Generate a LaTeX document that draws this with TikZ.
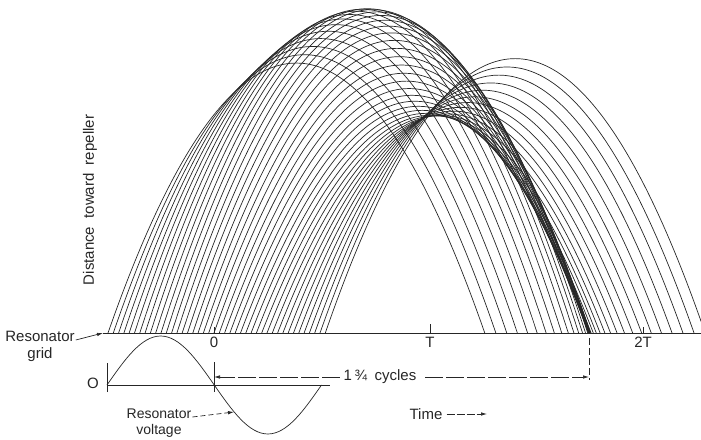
\documentclass[tikz,border=0pt]{standalone}
\usepackage{fontspec}
\setmainfont{Liberation Sans}
\usetikzlibrary{arrows.meta,positioning}
\definecolor{plateink}{HTML}{262626}
\tikzset{
  beampath/.style={draw=plateink, line width=0.7pt},
  gridline/.style={draw=plateink, line width=0.9pt},
  tickmark/.style={draw=plateink, line width=0.9pt},
  tagtext/.style={font=\fontsize{15}{17}\selectfont, inner sep=1pt, align=center, text=plateink},
  tagarrow/.style={-{Latex[length=6pt,width=3.5pt]}, draw=plateink, line width=0.7pt},
  spanarrow/.style={tagarrow, dash pattern=on 18pt off 3pt},
  markline/.style={draw=plateink, line width=0.7pt, dash pattern=on 7pt off 3pt}
}

\begin{document}
\begin{tikzpicture}[x=1pt,y=1pt]
\useasboundingbox (0,0) rectangle (701,439);
\clip (0,0) rectangle (701,439);
\foreach \n in {0,...,41}{
  \pgfmathsetmacro\tstart{-106+5.3*\n}
  \pgfmathsetmacro\vfac{1-0.1*sin(1.67832*\tstart)}
  \pgfmathsetmacro\xs{214+\tstart}
  \pgfmathsetmacro\xa{\xs+125.13*\vfac}
  \pgfmathsetmacro\xb{\xs+250.27*\vfac}
  \pgfmathsetmacro\xe{\xs+375.4*\vfac}
  \pgfmathsetmacro\yc{106+357.33*\vfac*\vfac}
  \draw[beampath] (\xs,106) .. controls (\xa,\yc) and (\xb,\yc) .. (\xe,106);
}
\coordinate (gridL) at (103,106);
\coordinate (gridR) at (701,106);
\coordinate (t0) at (214,106);
\coordinate (t1) at (430,106);
\coordinate (t2) at (643,106);
\draw[gridline] (gridL) -- (gridR);
\draw[tickmark] (t0) -- ++(0,6);
\draw[tickmark] (t1) -- ++(0,9);
\draw[tickmark] (t2) -- ++(0,6);
\node[tagtext, below=3pt of t0] (lbl0) {0};
\node[tagtext, below=3pt of t1] (lbl1) {T};
\node[tagtext, below=3pt of t2] (lbl2) {2T};
\node[tagtext, rotate=90] (distlbl) at (90,239) {Distance\ \ toward\ \ repeller};
\node[tagtext] (gridlbl) at (40,93) {Resonator\\grid};
\draw[tagarrow] ([yshift=6pt]gridlbl.east) -- (gridL);
\coordinate (vbase) at (107,54);
\coordinate (vend) at (330,54);
\draw[beampath] (vbase) -- (vend);
\draw[beampath] (107,54) sin (160.6,103) cos (214.25,54) sin (267.9,5) cos (321.5,54);
\draw[tickmark] (107,47) -- (107,76);
\draw[tickmark] (214,47) -- (214,77);
\node[tagtext] (lblO) at (93,56) {O};
\node[tagtext, font=\fontsize{14}{16}\selectfont] (voltlbl) at (159,16) {Resonator\\voltage};
\coordinate (volttip) at (234,27);
\draw[tagarrow, dash pattern=on 5pt off 3pt] ([yshift=6pt]voltlbl.east) -- (volttip);
\coordinate (zerobar) at (214,62);
\coordinate (bunchbar) at (589,62);
\draw[markline] (589,101) -- (589,59);
\node[tagtext, inner sep=4pt] (spanlbl) at (380,62) {1\,¾\enspace cycles};
\draw[spanarrow] (spanlbl.west) -- (zerobar);
\draw[spanarrow] ([xshift=5pt]spanlbl.east) -- (bunchbar);
\node[tagtext] (timelbl) at (426,25) {Time};
\coordinate (timetip) at (487,25);
\draw[tagarrow, dash pattern=on 8pt off 2pt] ([xshift=3pt]timelbl.east) -- (timetip);
\end{tikzpicture}
\end{document}
